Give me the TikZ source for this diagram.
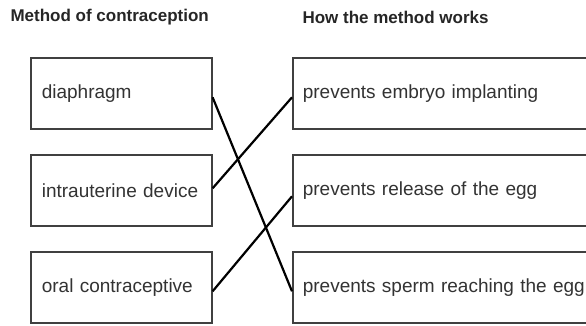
\documentclass[tikz,border=0pt]{standalone}
\usepackage{fontspec}
\setmainfont{Liberation Sans}
\begin{document}
\begin{tikzpicture}[x=1pt,y=-1pt,
  box/.style={draw=black!75, line width=1.6pt, rectangle, anchor=north west,
    minimum height=71pt, inner ysep=0pt, align=left, font=\fontsize{19}{22}\selectfont,
    text=black!80},
  lbox/.style={box, text width=159pt, inner xsep=11pt},
  rbox/.style={box, text width=300pt, inner xsep=10pt},
  head/.style={font=\bfseries\fontsize{17}{20}\selectfont, anchor=west, text=black!85},
  link/.style={line width=2.2pt, black}]
\useasboundingbox[fill=white] (0,0) rectangle (586,326);
\node[head] (h1) at (7,17) {Method of contraception};
\node[head] (h2) at (299,17) {How the method works};
\node[lbox] (l1) at (30,57) {diaphragm};
\node[lbox] (l2) at (30,154) {intrauterine device};
\node[lbox] (l3) at (30,251) {oral contraceptive};
\node[rbox] (r1) at (292,57) {prevents embryo implanting};
\node[rbox] (r2) at (292,154) {prevents release of the egg};
\node[rbox] (r3) at (292,251) {prevents sperm reaching the egg};
\draw[link] ([yshift=-4pt]l1.east) -- ([yshift=-4pt]r3.west);
\draw[link] ([yshift=2pt]l2.east) -- ([yshift=-4pt]r1.west);
\draw[link] ([yshift=-4pt]l3.east) -- ([yshift=-6pt]r2.west);
\end{tikzpicture}
\end{document}
